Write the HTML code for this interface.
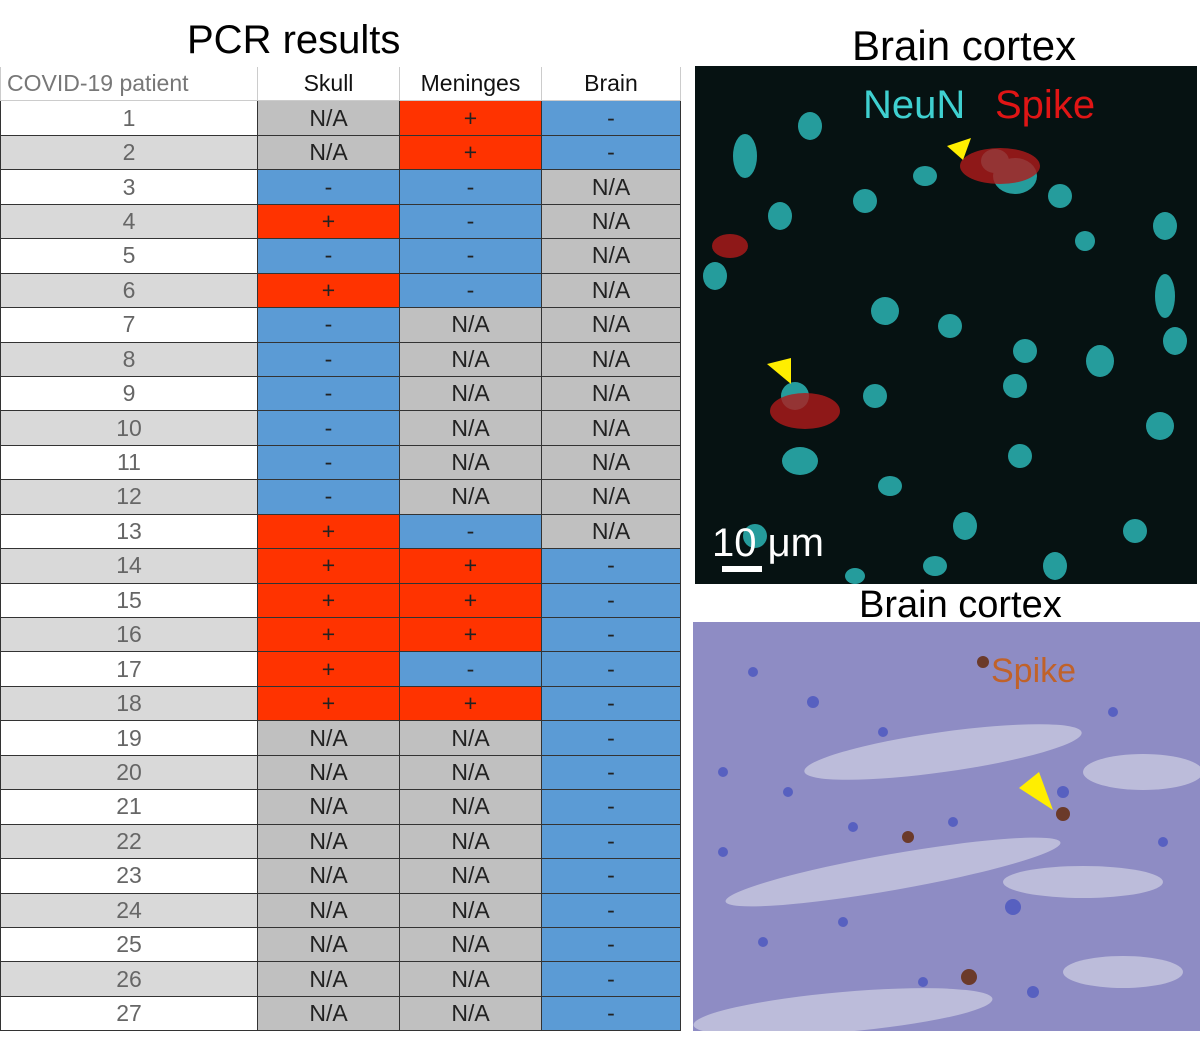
<!DOCTYPE html>
<html><head><meta charset="utf-8"><style>
body{margin:0;width:1200px;height:1039px;background:#fff;position:relative;overflow:hidden;font-family:"Liberation Sans",sans-serif}
.t{position:absolute;font-size:38px;color:#000}
#tbl{position:absolute;left:0;top:67px;width:681px}
.r{display:flex;height:34.44px;box-sizing:border-box}
.r div{box-sizing:border-box;display:flex;align-items:center;justify-content:center;font-size:23px;color:#222;border-right:1px solid #333;border-bottom:1px solid #333}
.c0{width:258px;color:#666!important;border-left:1px solid #333}
.c1,.c2{width:142px}.c3{width:139px}
.h div{border-color:#ccc;color:#111;font-size:23px}
.h .c0{justify-content:flex-start;padding-left:6px;color:#777!important;border-left:1px solid #ccc}
.g{background:#c0c0c0}.p{background:#ff3300}.m{background:#5b9bd5}
.e .c0{background:#d9d9d9}
</style></head><body>
<div class="t" style="left:187px;top:18px;font-size:40px">PCR results</div>
<div class="t" style="left:852px;top:22px;font-size:42px">Brain cortex</div>
<div id="tbl">
<div class="r h"><div class="c0">COVID-19 patient</div><div class="c1">Skull</div><div class="c2">Meninges</div><div class="c3">Brain</div></div>
<div class="r"><div class="c0">1</div><div class="c1 g">N/A</div><div class="c2 p">+</div><div class="c3 m">-</div></div>
<div class="r e"><div class="c0">2</div><div class="c1 g">N/A</div><div class="c2 p">+</div><div class="c3 m">-</div></div>
<div class="r"><div class="c0">3</div><div class="c1 m">-</div><div class="c2 m">-</div><div class="c3 g">N/A</div></div>
<div class="r e"><div class="c0">4</div><div class="c1 p">+</div><div class="c2 m">-</div><div class="c3 g">N/A</div></div>
<div class="r"><div class="c0">5</div><div class="c1 m">-</div><div class="c2 m">-</div><div class="c3 g">N/A</div></div>
<div class="r e"><div class="c0">6</div><div class="c1 p">+</div><div class="c2 m">-</div><div class="c3 g">N/A</div></div>
<div class="r"><div class="c0">7</div><div class="c1 m">-</div><div class="c2 g">N/A</div><div class="c3 g">N/A</div></div>
<div class="r e"><div class="c0">8</div><div class="c1 m">-</div><div class="c2 g">N/A</div><div class="c3 g">N/A</div></div>
<div class="r"><div class="c0">9</div><div class="c1 m">-</div><div class="c2 g">N/A</div><div class="c3 g">N/A</div></div>
<div class="r e"><div class="c0">10</div><div class="c1 m">-</div><div class="c2 g">N/A</div><div class="c3 g">N/A</div></div>
<div class="r"><div class="c0">11</div><div class="c1 m">-</div><div class="c2 g">N/A</div><div class="c3 g">N/A</div></div>
<div class="r e"><div class="c0">12</div><div class="c1 m">-</div><div class="c2 g">N/A</div><div class="c3 g">N/A</div></div>
<div class="r"><div class="c0">13</div><div class="c1 p">+</div><div class="c2 m">-</div><div class="c3 g">N/A</div></div>
<div class="r e"><div class="c0">14</div><div class="c1 p">+</div><div class="c2 p">+</div><div class="c3 m">-</div></div>
<div class="r"><div class="c0">15</div><div class="c1 p">+</div><div class="c2 p">+</div><div class="c3 m">-</div></div>
<div class="r e"><div class="c0">16</div><div class="c1 p">+</div><div class="c2 p">+</div><div class="c3 m">-</div></div>
<div class="r"><div class="c0">17</div><div class="c1 p">+</div><div class="c2 m">-</div><div class="c3 m">-</div></div>
<div class="r e"><div class="c0">18</div><div class="c1 p">+</div><div class="c2 p">+</div><div class="c3 m">-</div></div>
<div class="r"><div class="c0">19</div><div class="c1 g">N/A</div><div class="c2 g">N/A</div><div class="c3 m">-</div></div>
<div class="r e"><div class="c0">20</div><div class="c1 g">N/A</div><div class="c2 g">N/A</div><div class="c3 m">-</div></div>
<div class="r"><div class="c0">21</div><div class="c1 g">N/A</div><div class="c2 g">N/A</div><div class="c3 m">-</div></div>
<div class="r e"><div class="c0">22</div><div class="c1 g">N/A</div><div class="c2 g">N/A</div><div class="c3 m">-</div></div>
<div class="r"><div class="c0">23</div><div class="c1 g">N/A</div><div class="c2 g">N/A</div><div class="c3 m">-</div></div>
<div class="r e"><div class="c0">24</div><div class="c1 g">N/A</div><div class="c2 g">N/A</div><div class="c3 m">-</div></div>
<div class="r"><div class="c0">25</div><div class="c1 g">N/A</div><div class="c2 g">N/A</div><div class="c3 m">-</div></div>
<div class="r e"><div class="c0">26</div><div class="c1 g">N/A</div><div class="c2 g">N/A</div><div class="c3 m">-</div></div>
<div class="r"><div class="c0">27</div><div class="c1 g">N/A</div><div class="c2 g">N/A</div><div class="c3 m">-</div></div>
</div>

<svg style="position:absolute;left:695px;top:66px" width="502" height="518">
<rect width="502" height="518" fill="#061212"/>
<g fill="#2bb5b5" opacity="0.85">
<ellipse cx="50" cy="90" rx="12" ry="22"/><ellipse cx="85" cy="150" rx="12" ry="14"/><ellipse cx="115" cy="60" rx="12" ry="14"/>
<ellipse cx="170" cy="135" rx="12" ry="12"/><ellipse cx="230" cy="110" rx="12" ry="10"/><ellipse cx="300" cy="95" rx="14" ry="12"/>
<ellipse cx="365" cy="130" rx="12" ry="12"/><ellipse cx="320" cy="110" rx="22" ry="18"/><ellipse cx="470" cy="230" rx="10" ry="22"/>
<ellipse cx="190" cy="245" rx="14" ry="14"/><ellipse cx="255" cy="260" rx="12" ry="12"/><ellipse cx="330" cy="285" rx="12" ry="12"/>
<ellipse cx="405" cy="295" rx="14" ry="16"/><ellipse cx="480" cy="275" rx="12" ry="14"/><ellipse cx="100" cy="330" rx="14" ry="14"/>
<ellipse cx="180" cy="330" rx="12" ry="12"/><ellipse cx="320" cy="320" rx="12" ry="12"/><ellipse cx="105" cy="395" rx="18" ry="14"/>
<ellipse cx="195" cy="420" rx="12" ry="10"/><ellipse cx="325" cy="390" rx="12" ry="12"/><ellipse cx="465" cy="360" rx="14" ry="14"/>
<ellipse cx="270" cy="460" rx="12" ry="14"/><ellipse cx="360" cy="500" rx="12" ry="14"/><ellipse cx="440" cy="465" rx="12" ry="12"/>
<ellipse cx="160" cy="510" rx="10" ry="8"/><ellipse cx="240" cy="500" rx="12" ry="10"/><ellipse cx="60" cy="470" rx="12" ry="12"/>
<ellipse cx="470" cy="160" rx="12" ry="14"/><ellipse cx="20" cy="210" rx="12" ry="14"/><ellipse cx="390" cy="175" rx="10" ry="10"/>
</g>
<g fill="#b01a1a" opacity="0.8"><ellipse cx="305" cy="100" rx="40" ry="18"/><ellipse cx="110" cy="345" rx="35" ry="18"/><ellipse cx="35" cy="180" rx="18" ry="12"/></g>
<polygon points="252,80 276,72 268,94" fill="#ffee00"/>
<polygon points="72,298 96,292 96,318" fill="#ffee00"/>
<text x="168" y="52" font-family="Liberation Sans" font-size="40" fill="#3fd0d0">NeuN</text>
<text x="300" y="52" font-family="Liberation Sans" font-size="40" fill="#e01515">Spike</text>
<text x="17" y="490" font-family="Liberation Sans" font-size="40" fill="#fff">10 μm</text>
<rect x="27" y="500" width="40" height="6" fill="#fff"/>
</svg>
<div class="t" style="left:859px;top:584px;font-size:38px">Brain cortex</div>
<svg style="position:absolute;left:693px;top:622px" width="507" height="409">
<rect width="507" height="409" fill="#8e8cc4"/>
<g fill="#c8c8e0" opacity="0.8">
<ellipse cx="250" cy="130" rx="140" ry="20" transform="rotate(-8 250 130)"/><ellipse cx="450" cy="150" rx="60" ry="18"/>
<ellipse cx="200" cy="250" rx="170" ry="18" transform="rotate(-10 200 250)"/><ellipse cx="390" cy="260" rx="80" ry="16"/>
<ellipse cx="150" cy="390" rx="150" ry="20" transform="rotate(-5 150 390)"/><ellipse cx="430" cy="350" rx="60" ry="16"/>
</g>
<g fill="#4a55c0" opacity="0.8">
<circle cx="60" cy="50" r="5"/><circle cx="120" cy="80" r="6"/><circle cx="190" cy="110" r="5"/><circle cx="30" cy="150" r="5"/>
<circle cx="95" cy="170" r="5"/><circle cx="160" cy="205" r="5"/><circle cx="30" cy="230" r="5"/><circle cx="320" cy="285" r="8"/>
<circle cx="260" cy="200" r="5"/><circle cx="420" cy="90" r="5"/><circle cx="370" cy="170" r="6"/><circle cx="70" cy="320" r="5"/>
<circle cx="230" cy="360" r="5"/><circle cx="340" cy="370" r="6"/><circle cx="470" cy="220" r="5"/><circle cx="150" cy="300" r="5"/>
</g>
<g fill="#6b3a2a"><circle cx="370" cy="192" r="7"/><circle cx="276" cy="355" r="8"/><circle cx="215" cy="215" r="6"/><circle cx="290" cy="40" r="6"/></g>
<polygon points="326,166 346,150 360,188" fill="#ffee00"/>
<text x="298" y="60" font-family="Liberation Sans" font-size="34" fill="#c0622a">Spike</text>
</svg>
</body></html>
